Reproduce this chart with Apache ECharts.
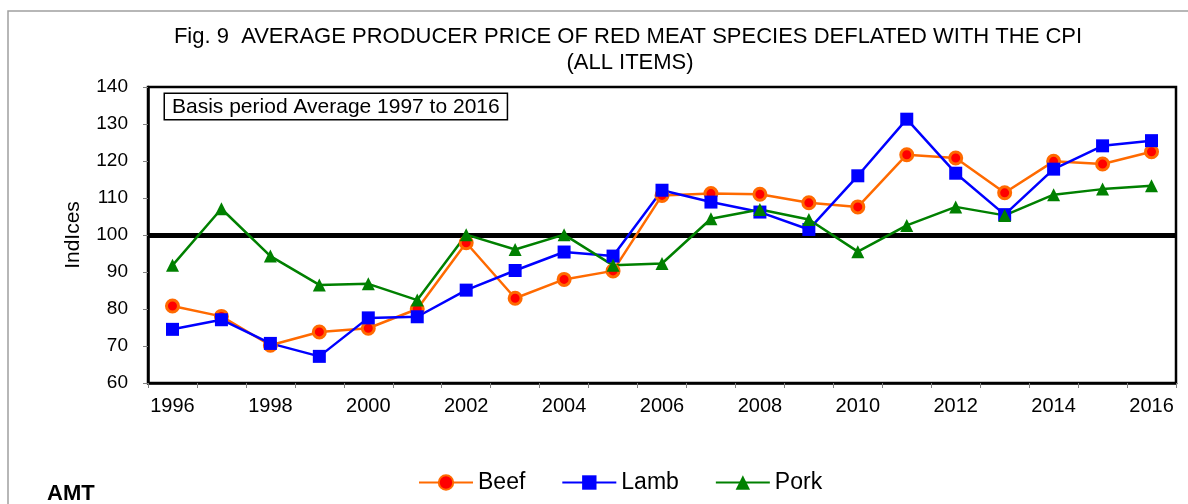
<!DOCTYPE html>
<html>
<head>
<meta charset="utf-8">
<script src="https://cdn.jsdelivr.net/npm/echarts@6/dist/echarts.min.js"></script>
<style>
  html, body { margin: 0; padding: 0; background: #fff; }
  #chart { width: 1188px; height: 504px; }
</style>
</head>
<body>
<div id="chart"></div>
<script>
// values
const years = ["1996", "1997", "1998", "1999", "2000", "2001", "2002", "2003", "2004", "2005", "2006",
  "2007", "2008", "2009", "2010", "2011", "2012", "2013", "2014", "2015", "2016"];
const beef = [80.8, 78.0, 70.2, 73.8, 74.8, 80.0, 97.9, 82.9, 88.0, 90.3, 110.7,
  111.2, 111.0, 108.7, 107.6, 121.7, 120.8, 111.4, 119.9, 119.2, 122.5];
const lamb = [74.5, 77.1, 70.7, 67.2, 77.6, 77.9, 85.1, 90.4, 95.4, 94.3, 112.1,
  108.9, 106.2, 101.5, 116.0, 131.3, 116.7, 105.5, 117.8, 124.1, 125.5];
const pork = [91.8, 107.1, 94.3, 86.5, 86.8, 82.4, 100.1, 96.1, 100.1, 91.8, 92.3,
  104.4, 106.9, 104.2, 95.5, 102.6, 107.6, 105.3, 110.9, 112.4, 113.3];
const baseLevel = 100;

const FONT = "'Liberation Sans', Arial, sans-serif";

const chart = echarts.init(document.getElementById("chart"), null, { renderer: "canvas" });

const option = {
  backgroundColor: "#fff",
  animation: false,
  graphic: [
    // outer frame (only left and top edges show)
    {
      type: "rect", x: 8, y: 11, z: -1,
      shape: { x: 0, y: 0, width: 1300, height: 700 },
      style: { fill: "none", stroke: "#a0a0a0", lineWidth: 1.5 }
    },
    {
      type: "text", x: 628, y: 37,
      style: {
        text: "Fig. 9  AVERAGE PRODUCER PRICE OF RED MEAT SPECIES DEFLATED WITH THE CPI",
        font: "22px " + FONT, fill: "#000", align: "center", verticalAlign: "middle"
      }
    },
    {
      type: "text", x: 630, y: 63,
      style: {
        text: "(ALL ITEMS)",
        font: "22px " + FONT, fill: "#000", align: "center", verticalAlign: "middle"
      }
    },
    {
      type: "text", x: 165, y: 94, z: 10,
      style: {
        text: "Basis period Average 1997 to 2016",
        font: "21px " + FONT, fill: "#000",
        backgroundColor: "#fff", borderColor: "#000", borderWidth: 1.5,
        padding: [3, 7, 1, 7]
      }
    },
    {
      type: "text", x: 47, y: 483,
      style: { text: "AMT", font: "bold 22px " + FONT, fill: "#000" }
    }
  ],
  legend: {
    left: 413, top: 466,
    itemWidth: 54, itemHeight: 18, itemGap: 36,
    textStyle: { fontFamily: FONT, fontSize: 23, color: "#000" },
    data: ["Beef", "Lamb", "Pork"]
  },
  grid: {
    left: 148, right: 12, top: 87, bottom: 121,
    show: true, borderColor: "#000", borderWidth: 2.5, backgroundColor: "transparent"
  },
  xAxis: {
    type: "category",
    data: years,
    boundaryGap: true,
    axisLine: { lineStyle: { color: "#000", width: 2.5 } },
    axisTick: { show: true, interval: 0, length: 5, lineStyle: { color: "#808080", width: 1 } },
    axisLabel: { interval: 1, margin: 13, fontFamily: FONT, fontSize: 20, color: "#000" },
    splitLine: { show: false }
  },
  yAxis: {
    type: "value",
    min: 60, max: 140, interval: 10,
    name: "IndIces",
    nameLocation: "middle",
    nameGap: 64,
    nameTextStyle: { fontFamily: FONT, fontSize: 21, color: "#000" },
    axisLine: { show: true, lineStyle: { color: "#000", width: 2.5 } },
    axisTick: { show: true, length: 5, lineStyle: { color: "#808080", width: 1 } },
    axisLabel: { margin: 20, fontFamily: FONT, fontSize: 19, color: "#000" },
    splitLine: { show: false }
  },
  series: [
    {
      name: "Beef", type: "line", data: beef,
      symbol: "circle", symbolSize: 12,
      lineStyle: { color: "#ff6a00", width: 2.5 },
      itemStyle: { color: "#ff0000", borderColor: "#ff6a00", borderWidth: 3 },
      markLine: {
        silent: true, symbol: "none", z: 1,
        label: { show: false },
        lineStyle: { color: "#000", width: 5, type: "solid" },
        data: [{ yAxis: baseLevel }]
      }
    },
    {
      name: "Lamb", type: "line", data: lamb,
      symbol: "rect", symbolSize: 13,
      lineStyle: { color: "#0000ff", width: 2.5 },
      itemStyle: { color: "#0000ff" }
    },
    {
      name: "Pork", type: "line", data: pork,
      symbol: "triangle", symbolSize: 13,
      lineStyle: { color: "#008000", width: 2.5 },
      itemStyle: { color: "#008000" }
    }
  ]
};

chart.setOption(option);
</script>
</body>
</html>
